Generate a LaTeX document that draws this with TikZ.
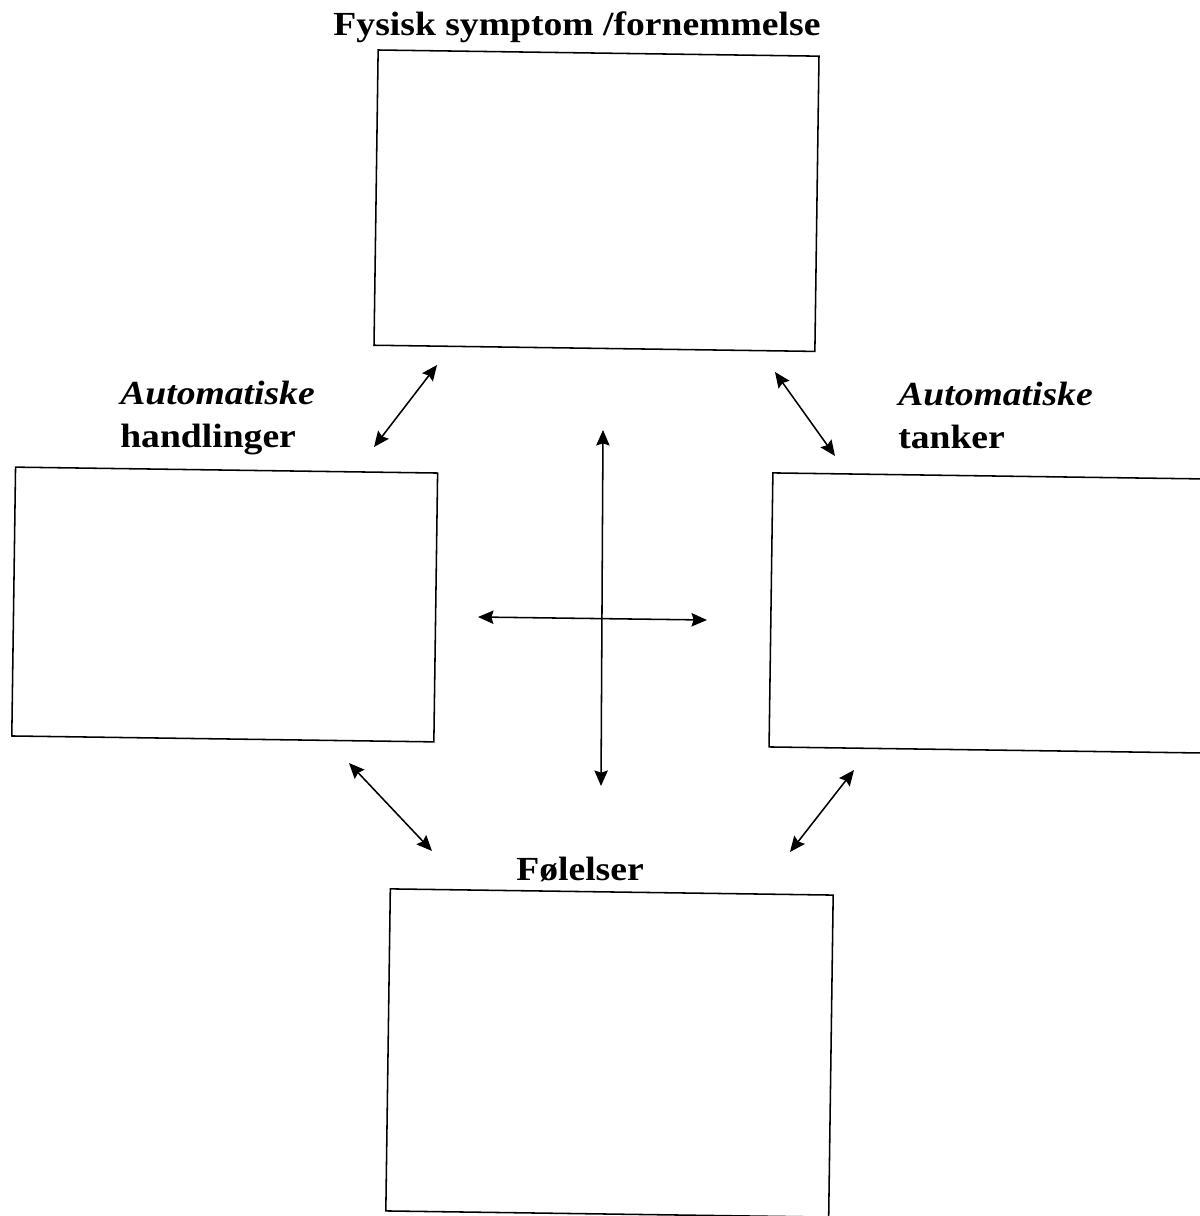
\documentclass[tikz,border=0pt]{standalone}
\usepackage{fontspec}
\setmainfont[FakeStretch=1.115]{Liberation Serif}
\usetikzlibrary{arrows.meta}
\usetikzlibrary{positioning}

\begin{document}
\begin{tikzpicture}[x=0.025cm, y=-0.025cm,
    box/.style={draw, line width=1.1pt, rotate=-0.8, inner sep=0pt},
    lbl/.style={font=\fontsize{24pt}{29.9pt}\selectfont\bfseries, inner sep=0pt},
    link/.style={line width=1.1pt, {Stealth[length=11pt, width=9.5pt, inset=1.5pt]}-{Stealth[length=11pt, width=9.5pt, inset=1.5pt]}}]
      \useasboundingbox (0, 0) rectangle (1200, 1216);
      \clip (0, 0) rectangle (1200, 1216);

      \node[box, minimum width=11.02cm, minimum height=7.38cm] (fysisk) at (596.5, 200.7) {};
      \node[box, minimum width=10.55cm, minimum height=6.72cm] (handl) at (224.7, 604.5) {};
      \node[box, minimum width=11.0cm, minimum height=6.85cm] (tanker) at (991, 613) {};
      \node[box, minimum width=11.07cm, minimum height=8.05cm] (folelse) at (609.5, 1053) {};

      \node[lbl, anchor=base] (tfysisk) at (577, 36) {Fysisk symptom /fornemmelse};
      \node[lbl, anchor=base west, align=left] (thandl) at (120, 447) {\textit{Automatiske}\\handlinger};
      \node[lbl, anchor=base west, align=left] (ttanker) at (898, 448) {\textit{Automatiske}\\tanker};
      \node[lbl, anchor=base] (tfolelse) at (580, 880) {Følelser};

      \coordinate (a1) at (437, 365);
      \coordinate (a2) at (374, 447);
      \coordinate (b1) at (775, 372);
      \coordinate (b2) at (835, 456);
      \coordinate (c1) at (349, 763);
      \coordinate (c2) at (432, 851);
      \coordinate (d1) at (854, 770);
      \coordinate (d2) at (790, 852);
      \coordinate (v1) at (603, 430);
      \coordinate (v2) at (601, 786);
      \coordinate (h1) at (478, 617);
      \coordinate (h2) at (707, 620);

      \draw[link] (a1) -- (a2);
      \draw[link] (b1) -- (b2);
      \draw[link] (c1) -- (c2);
      \draw[link] (d1) -- (d2);
      \draw[link] (v1) -- (v2);
      \draw[link] (h1) -- (h2);
    \end{tikzpicture}
\end{document}
